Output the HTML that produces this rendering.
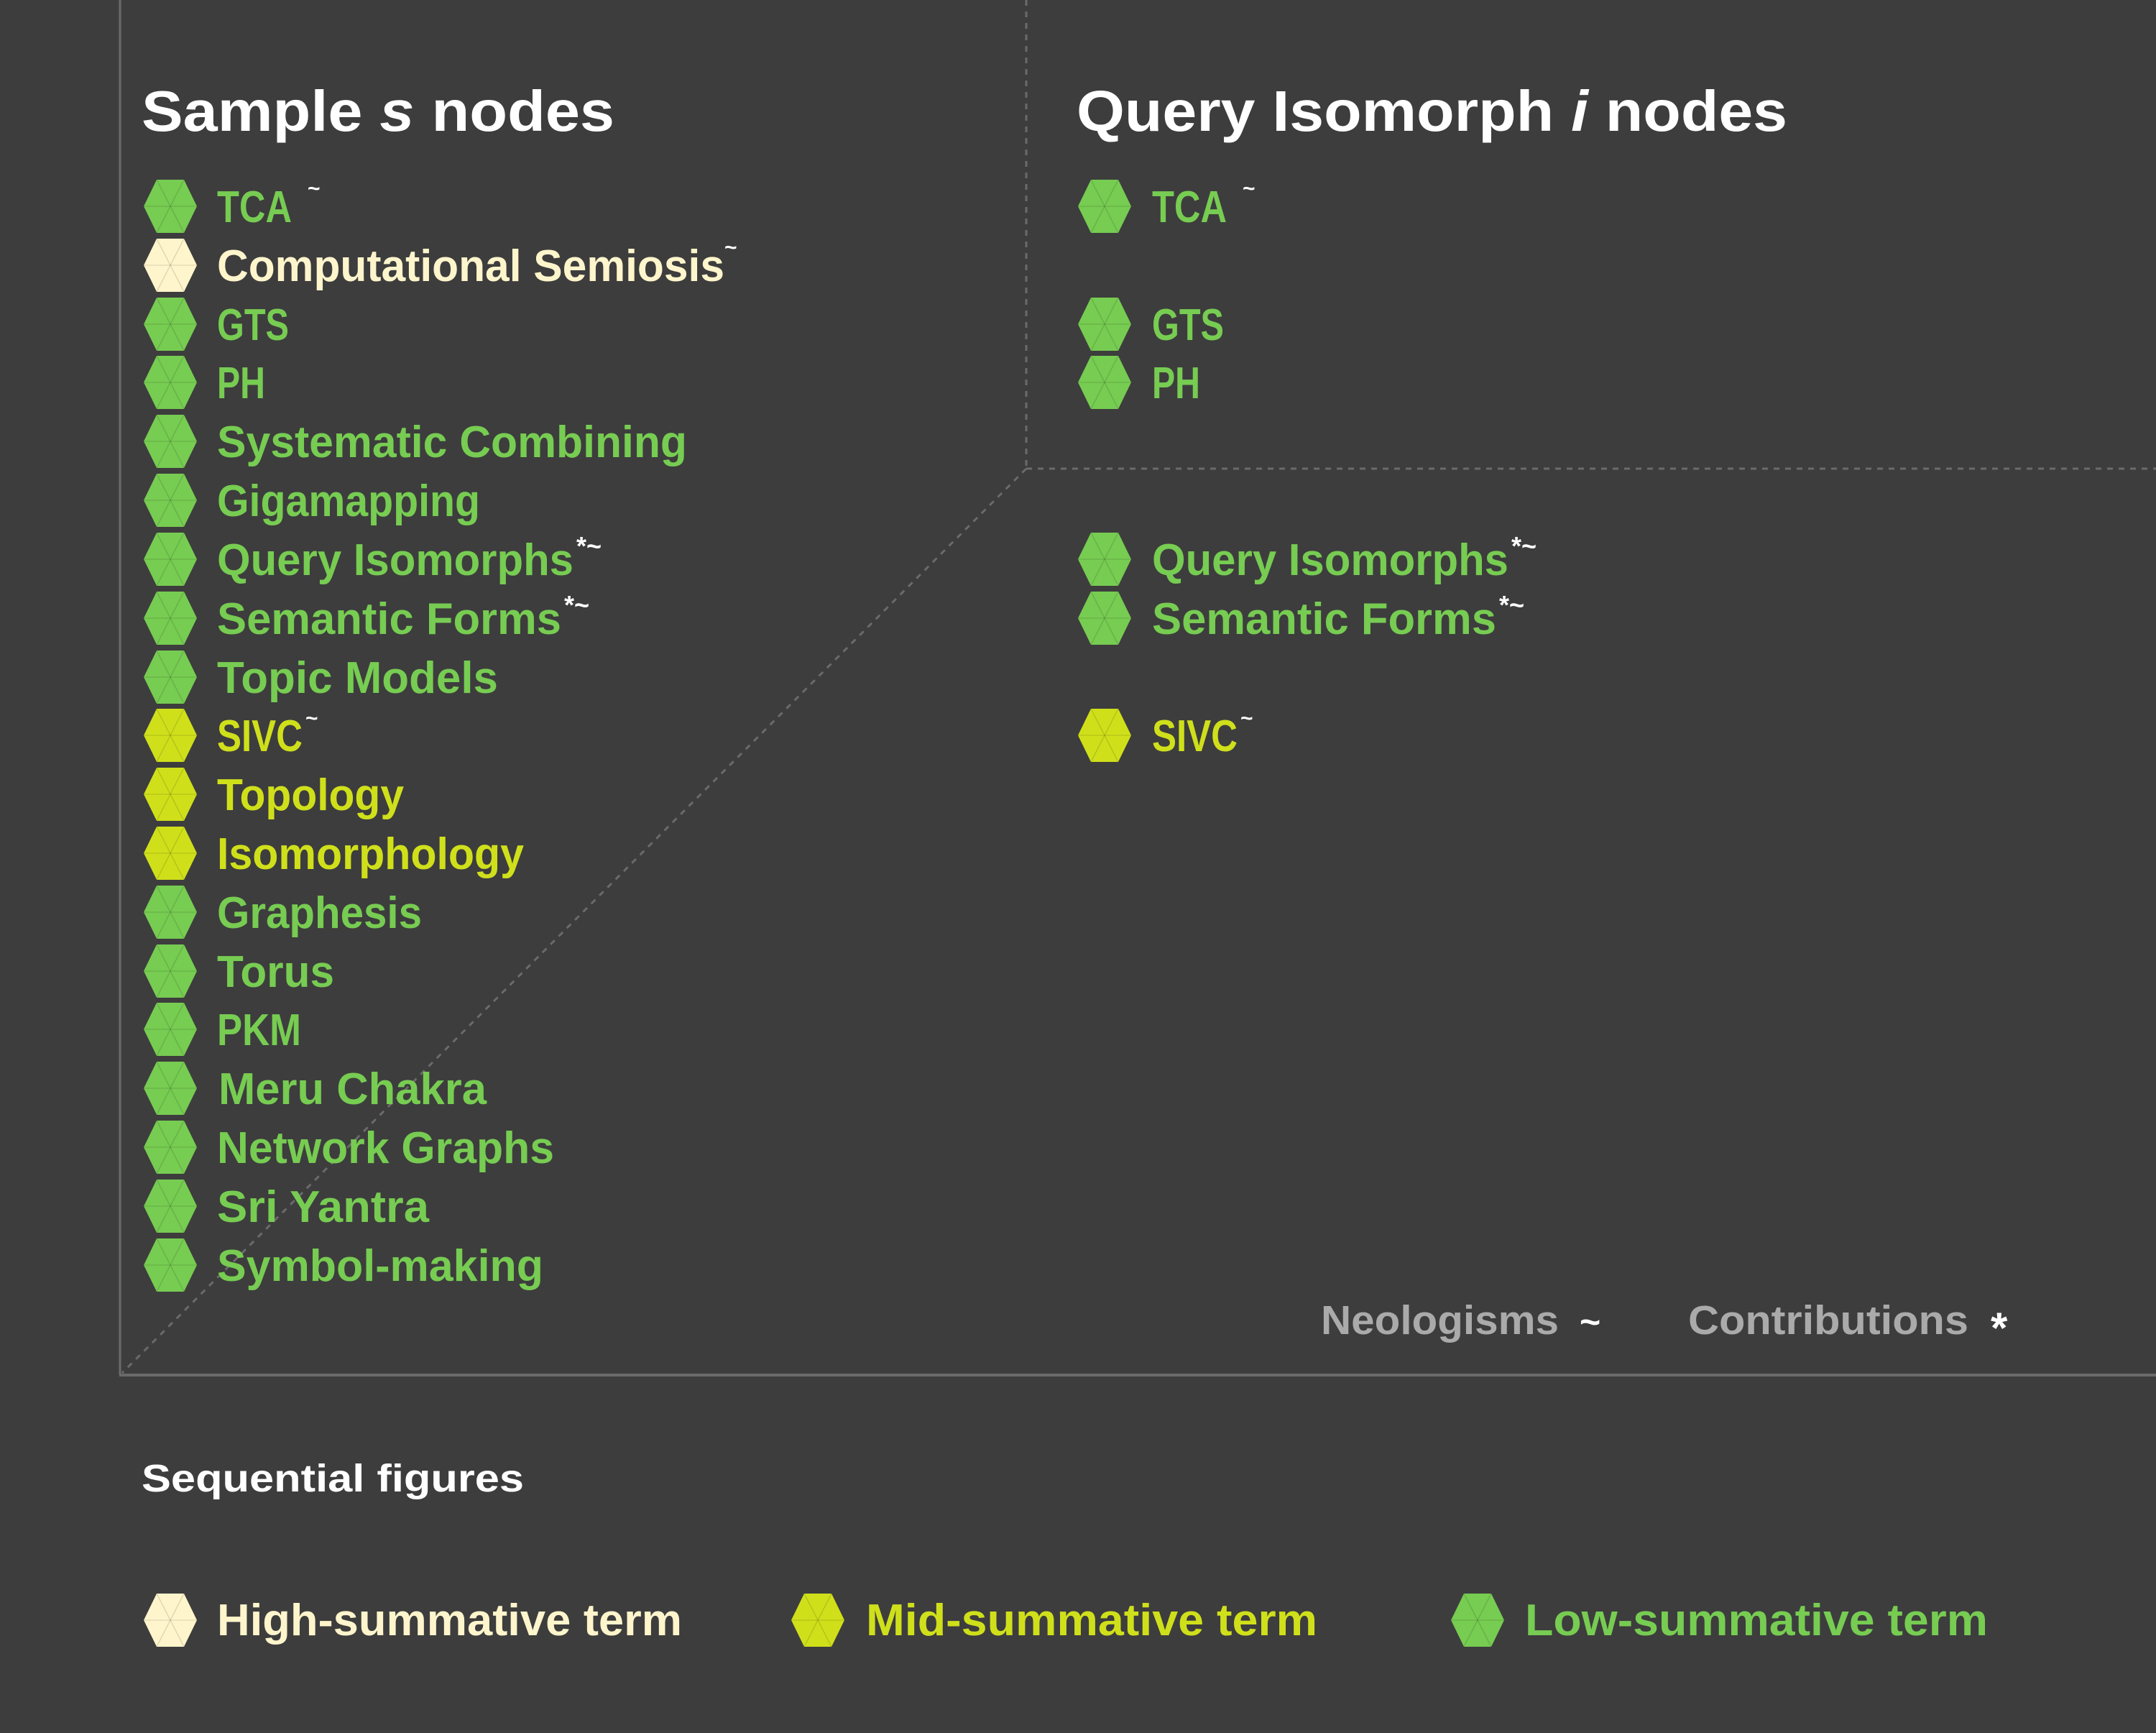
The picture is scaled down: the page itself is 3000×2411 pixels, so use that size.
<!DOCTYPE html>
<html><head><meta charset="utf-8"><style>
html,body{margin:0;padding:0;background:#3d3d3d;}
svg{display:block;}
text{font-family:"Liberation Sans",sans-serif;font-weight:bold;}
</style></head><body>
<svg width="3000" height="2411" viewBox="0 0 3000 2411" xmlns="http://www.w3.org/2000/svg">
<defs>
<g id="hx">
<polygon points="-37,0 -19,-37 19,-37 37,0 19,37 -19,37"/>
<polyline points="-19,-37 0,0 19,-37" fill="none" stroke="#000" stroke-opacity="0.12" stroke-width="1.5"/>
<polyline points="-37,0 0,0 37,0" fill="none" stroke="#000" stroke-opacity="0.1" stroke-width="1.5"/>
<polyline points="-19,37 0,0 19,37" fill="none" stroke="#000" stroke-opacity="0.12" stroke-width="1.5"/>
</g>
</defs>
<rect width="3000" height="2411" fill="#3d3d3d"/>
<line x1="167" y1="0" x2="167" y2="1913" stroke="#6a6a6a" stroke-width="3"/>
<line x1="166" y1="1913" x2="3000" y2="1913" stroke="#6a6a6a" stroke-width="4"/>
<line x1="1428" y1="0" x2="1428" y2="652" stroke="#6a6a6a" stroke-width="3" stroke-dasharray="8,8"/>
<line x1="1428" y1="652" x2="3000" y2="652" stroke="#6a6a6a" stroke-width="3" stroke-dasharray="8,8"/>
<line x1="1428" y1="652" x2="170" y2="1910" stroke="#6a6a6a" stroke-width="3" stroke-dasharray="8,8"/>

<text x="197" y="182" font-size="80" fill="#fff" textLength="658" lengthAdjust="spacingAndGlyphs">Sample  <tspan font-style="italic">s</tspan>  nodes</text>
<text x="1498" y="182" font-size="80" fill="#fff" textLength="989" lengthAdjust="spacingAndGlyphs">Query Isomorph  <tspan font-style="italic">i</tspan>  nodes</text>

<g font-size="62">
<use href="#hx" x="237" y="287" fill="#77cc52"/><text x="302" y="309" fill="#77cc52" textLength="104" lengthAdjust="spacingAndGlyphs">TCA</text><text x="428" y="272" font-size="30" fill="#fff">~</text>
<use href="#hx" x="237" y="369" fill="#fff5cc"/><text x="302" y="391" fill="#fff5cc" textLength="706" lengthAdjust="spacingAndGlyphs">Computational Semiosis</text><text x="1008" y="354" font-size="30" fill="#fff">~</text>
<use href="#hx" x="237" y="451" fill="#77cc52"/><text x="302" y="473" fill="#77cc52" textLength="100" lengthAdjust="spacingAndGlyphs">GTS</text>
<use href="#hx" x="237" y="532" fill="#77cc52"/><text x="302" y="554" fill="#77cc52" textLength="67" lengthAdjust="spacingAndGlyphs">PH</text>
<use href="#hx" x="237" y="614" fill="#77cc52"/><text x="302" y="636" fill="#77cc52" textLength="654" lengthAdjust="spacingAndGlyphs">Systematic Combining</text>
<use href="#hx" x="237" y="696" fill="#77cc52"/><text x="302" y="718" fill="#77cc52" textLength="366" lengthAdjust="spacingAndGlyphs">Gigamapping</text>
<use href="#hx" x="237" y="778" fill="#77cc52"/><text x="302" y="800" fill="#77cc52" textLength="496" lengthAdjust="spacingAndGlyphs">Query Isomorphs</text><text x="802" y="772" font-size="36" fill="#fff">*~</text>
<use href="#hx" x="237" y="860" fill="#77cc52"/><text x="302" y="882" fill="#77cc52" textLength="479" lengthAdjust="spacingAndGlyphs">Semantic Forms</text><text x="785" y="854" font-size="36" fill="#fff">*~</text>
<use href="#hx" x="237" y="942" fill="#77cc52"/><text x="302" y="964" fill="#77cc52" textLength="391" lengthAdjust="spacingAndGlyphs">Topic Models</text>
<use href="#hx" x="237" y="1023" fill="#cfe01b"/><text x="302" y="1045" fill="#cfe01b" textLength="119" lengthAdjust="spacingAndGlyphs">SIVC</text><text x="425" y="1009" font-size="30" fill="#fff">~</text>
<use href="#hx" x="237" y="1105" fill="#cfe01b"/><text x="302" y="1127" fill="#cfe01b" textLength="260" lengthAdjust="spacingAndGlyphs">Topology</text>
<use href="#hx" x="237" y="1187" fill="#cfe01b"/><text x="302" y="1209" fill="#cfe01b" textLength="427" lengthAdjust="spacingAndGlyphs">Isomorphology</text>
<use href="#hx" x="237" y="1269" fill="#77cc52"/><text x="302" y="1291" fill="#77cc52" textLength="285" lengthAdjust="spacingAndGlyphs">Graphesis</text>
<use href="#hx" x="237" y="1351" fill="#77cc52"/><text x="302" y="1373" fill="#77cc52" textLength="163" lengthAdjust="spacingAndGlyphs">Torus</text>
<use href="#hx" x="237" y="1432" fill="#77cc52"/><text x="302" y="1454" fill="#77cc52" textLength="117" lengthAdjust="spacingAndGlyphs">PKM</text>
<use href="#hx" x="237" y="1514" fill="#77cc52"/><text x="304" y="1536" fill="#77cc52" textLength="373" lengthAdjust="spacingAndGlyphs">Meru Chakra</text>
<use href="#hx" x="237" y="1596" fill="#77cc52"/><text x="302" y="1618" fill="#77cc52" textLength="469" lengthAdjust="spacingAndGlyphs">Network Graphs</text>
<use href="#hx" x="237" y="1678" fill="#77cc52"/><text x="302" y="1700" fill="#77cc52" textLength="295" lengthAdjust="spacingAndGlyphs">Sri Yantra</text>
<use href="#hx" x="237" y="1760" fill="#77cc52"/><text x="302" y="1782" fill="#77cc52" textLength="454" lengthAdjust="spacingAndGlyphs">Symbol-making</text>
</g>

<g font-size="62">
<use href="#hx" x="1537" y="287" fill="#77cc52"/><text x="1603" y="309" fill="#77cc52" textLength="104" lengthAdjust="spacingAndGlyphs">TCA</text><text x="1729" y="272" font-size="30" fill="#fff">~</text>
<use href="#hx" x="1537" y="451" fill="#77cc52"/><text x="1603" y="473" fill="#77cc52" textLength="100" lengthAdjust="spacingAndGlyphs">GTS</text>
<use href="#hx" x="1537" y="532" fill="#77cc52"/><text x="1603" y="554" fill="#77cc52" textLength="67" lengthAdjust="spacingAndGlyphs">PH</text>
<use href="#hx" x="1537" y="778" fill="#77cc52"/><text x="1603" y="800" fill="#77cc52" textLength="496" lengthAdjust="spacingAndGlyphs">Query Isomorphs</text><text x="2103" y="772" font-size="36" fill="#fff">*~</text>
<use href="#hx" x="1537" y="860" fill="#77cc52"/><text x="1603" y="882" fill="#77cc52" textLength="479" lengthAdjust="spacingAndGlyphs">Semantic Forms</text><text x="2086" y="854" font-size="36" fill="#fff">*~</text>
<use href="#hx" x="1537" y="1023" fill="#cfe01b"/><text x="1603" y="1045" fill="#cfe01b" textLength="119" lengthAdjust="spacingAndGlyphs">SIVC</text><text x="1726" y="1009" font-size="30" fill="#fff">~</text>
</g>

<text x="1838" y="1856" font-size="57" fill="#aaaaaa" textLength="331" lengthAdjust="spacingAndGlyphs">Neologisms</text>
<text x="2198" y="1856" font-size="50" fill="#fff">~</text>
<text x="2349" y="1856" font-size="57" fill="#aaaaaa" textLength="390" lengthAdjust="spacingAndGlyphs">Contributions</text>
<text x="2770" y="1868" font-size="60" fill="#fff">*</text>

<text x="197" y="2075" font-size="54" fill="#fff" textLength="532" lengthAdjust="spacingAndGlyphs">Sequential figures</text>

<g font-size="62">
<use href="#hx" x="237" y="2254" fill="#fff5cc"/><text x="302" y="2275" fill="#fff5cc" textLength="647" lengthAdjust="spacingAndGlyphs">High-summative term</text>
<use href="#hx" x="1138" y="2254" fill="#cfe01b"/><text x="1205" y="2275" fill="#cfe01b" textLength="628" lengthAdjust="spacingAndGlyphs">Mid-summative term</text>
<use href="#hx" x="2056" y="2254" fill="#77cc52"/><text x="2122" y="2275" fill="#77cc52" textLength="644" lengthAdjust="spacingAndGlyphs">Low-summative term</text>
</g>
</svg>
</body></html>
